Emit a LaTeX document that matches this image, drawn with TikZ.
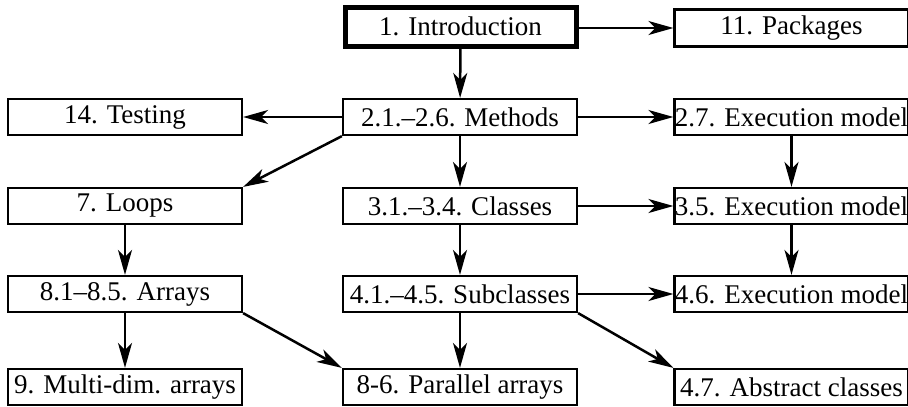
\documentclass[tikz,border=0pt]{standalone}
\usepackage{fontspec}
\setmainfont{Liberation Serif}
\newfontfamily\chapterfont{Liberation Serif}
\usetikzlibrary{arrows.meta}

\begin{document}
\begin{tikzpicture}[x=1pt,y=1pt,
  chapter/.style={draw, line width=2.2pt, minimum width=234pt, minimum height=36pt,
    inner sep=0pt, font=\chapterfont\fontsize{27}{30}\selectfont},
  flow/.style={line width=2.5pt, -{Stealth[length=25pt,width=14pt,inset=7pt]}}]
\useasboundingbox (0,0) rectangle (908,-407);
\clip (0,0) rectangle (908,-407);

% first row
\node[chapter, line width=5pt, minimum width=231pt, minimum height=39pt] (intro) at (460.5,-26.5) {1. Introduction};
\node[chapter, minimum height=37pt] (pack) at (791.5,-28) {11. Packages};

% second row
\node[chapter] (test) at (125,-117) {14. Testing};
\node[chapter] (meth) at (460,-117) {2.1.–2.6. Methods};
\node[chapter] (exa) at (791.5,-117) {2.7. Execution model};

% third row
\node[chapter] (loops) at (125,-206) {7. Loops};
\node[chapter] (cls) at (460,-206) {3.1.–3.4. Classes};
\node[chapter] (exb) at (791.5,-206) {3.5. Execution model};

% fourth row
\node[chapter] (arr) at (125,-294) {8.1–8.5. Arrays};
\node[chapter] (sub) at (460,-294) {4.1.–4.5. Subclasses};
\node[chapter] (exc) at (791.5,-294) {4.6. Execution model};

% fifth row
\node[chapter] (multi) at (125,-387) {9. Multi-dim. arrays};
\node[chapter] (par) at (460,-387) {8-6. Parallel arrays};
\node[chapter] (abs) at (791.5,-387) {4.7. Abstract classes};

% dependencies
\draw[flow] (intro.east |- pack.west) -- (pack.west);
\draw[flow] (intro) -- (meth);
\draw[flow] (meth) -- (test);
\draw[flow] (meth.south west) -- (loops.north east);
\draw[flow] (meth) -- (cls);
\draw[flow] (meth) -- (exa);
\draw[flow] (exa) -- (exb);
\draw[flow] (cls) -- (exb);
\draw[flow] (exb) -- (exc);
\draw[flow] (cls) -- (sub);
\draw[flow] (sub) -- (exc);
\draw[flow] (sub) -- (par);
\draw[flow] (sub.south east) -- (abs.north west);
\draw[flow] (loops) -- (arr);
\draw[flow] (arr) -- (multi);
\draw[flow] (arr.south east) -- (par.north west);
\end{tikzpicture}
\end{document}
